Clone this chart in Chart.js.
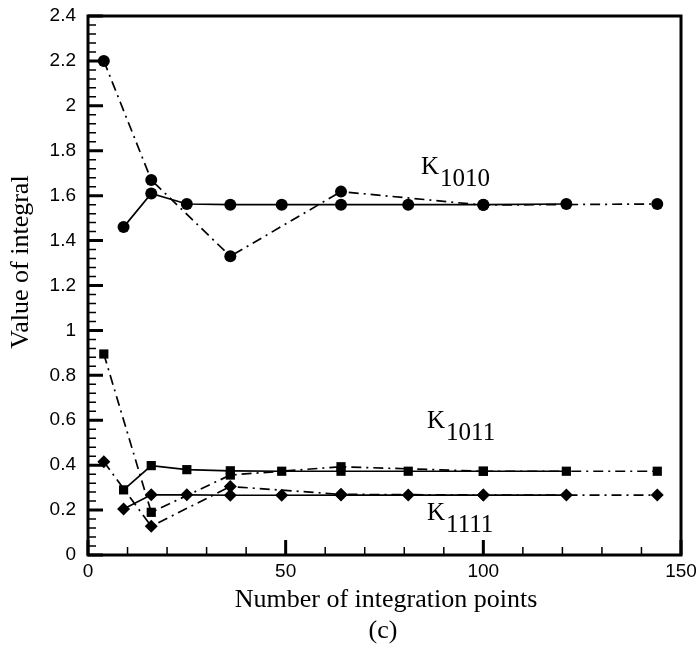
<!DOCTYPE html>
<html lang="en">
<head>
  <meta charset="UTF-8">
  <title>Value of integral</title>
  <script src="https://cdn.jsdelivr.net/npm/chart.js"></script>
  <style>
    body {
      margin: 0;
      padding: 0;
      background: white;
    }

    .wrap {
      width: 696px;
      height: 653px;
      position: relative;
    }
  </style>
</head>
<body>

  <div class="wrap">
    <canvas id="chart"></canvas>
  </div>

  <script>
    // integration point counts
    const evenPoints = [4, 16, 36, 64, 100, 144];
    const allPoints = [9, 16, 25, 36, 49, 64, 81, 100, 121];

    // K1010 (circles)
    const k1010Solid = [1.46, 1.61, 1.563, 1.56, 1.56, 1.56, 1.56, 1.56, 1.563];
    const k1010Dash = [2.2, 1.67, 1.33, 1.618, 1.558, 1.563];

    // K1011 (squares)
    const k1011Solid = [0.29, 0.398, 0.38, 0.375, 0.373, 0.373, 0.373, 0.373, 0.373];
    const k1011Dash = [0.895, 0.19, 0.356, 0.393, 0.373, 0.373];

    // K1111 (diamonds)
    const k1111Solid = [0.205, 0.268, 0.268, 0.266, 0.266, 0.267, 0.267, 0.267, 0.267];
    const k1111Dash = [0.415, 0.128, 0.305, 0.27, 0.267, 0.267];

    const xTicks = [0, 50, 100, 150];
    const labels = [
      { main: 'K', sub: '1010', x: 421, y: 174 },
      { main: 'K', sub: '1011', x: 427, y: 428 },
      { main: 'K', sub: '1111', x: 427, y: 520 }
    ];

    const serif = '"Liberation Serif", "Times New Roman", serif';
    const sans = '"Liberation Sans", Arial, sans-serif';
    const dashDot = [10, 5, 2, 5];

    function pts(xs, ys) {
      return xs.map((x, i) => ({ x: x, y: ys[i] }));
    }

    function series(xs, ys, style, dashed) {
      return {
        data: pts(xs, ys),
        showLine: true,
        borderColor: '#000',
        backgroundColor: '#000',
        borderWidth: 1.7,
        borderDash: dashed ? dashDot : [],
        pointStyle: style,
        pointRadius: style === 'circle' ? 6 : 6.5,
        pointBorderWidth: 0
      };
    }

    // frame, inward ticks and the text labels
    const decorations = {
      id: 'decorations',
      afterDraw(chart) {
        const ctx = chart.ctx;
        const a = chart.chartArea;
        const xs = chart.scales.x;
        const ys = chart.scales.y;
        ctx.save();
        ctx.strokeStyle = '#000';

        // minor ticks
        ctx.lineWidth = 1.5;
        ctx.beginPath();
        for (let v = 0; v <= 150; v += 10) {
          const px = xs.getPixelForValue(v);
          ctx.moveTo(px, a.bottom);
          ctx.lineTo(px, a.bottom - 8);
        }
        for (let i = 0; i <= 60; i++) {
          const py = ys.getPixelForValue(i * 0.04);
          ctx.moveTo(a.left, py);
          ctx.lineTo(a.left + 8, py);
        }
        ctx.stroke();

        // major ticks
        ctx.lineWidth = 3;
        ctx.beginPath();
        xTicks.forEach(v => {
          const px = xs.getPixelForValue(v);
          ctx.moveTo(px, a.bottom);
          ctx.lineTo(px, a.bottom - 15);
        });
        for (let i = 0; i <= 12; i++) {
          const py = ys.getPixelForValue(i * 0.2);
          ctx.moveTo(a.left, py);
          ctx.lineTo(a.left + 15, py);
        }
        ctx.stroke();

        // frame
        ctx.lineWidth = 3;
        ctx.strokeRect(a.left, a.top, a.right - a.left, a.bottom - a.top);

        // axis titles
        ctx.fillStyle = '#000';
        ctx.font = '26px ' + serif;
        ctx.textAlign = 'center';
        ctx.textBaseline = 'alphabetic';
        ctx.fillText('Number of integration points', 386, 607);
        ctx.fillText('(c)', 383, 638);

        ctx.save();
        ctx.translate(28, 262);
        ctx.rotate(-Math.PI / 2);
        ctx.fillText('Value of integral', 0, 0);
        ctx.restore();

        // curve labels
        ctx.textAlign = 'left';
        labels.forEach(l => {
          ctx.font = '25px ' + serif;
          ctx.fillText(l.main, l.x, l.y);
          const w = ctx.measureText(l.main).width;
          ctx.fillText(l.sub, l.x + w + 1, l.y + 12);
        });

        ctx.restore();
      }
    };

    new Chart(document.getElementById('chart'), {
      type: 'scatter',
      data: {
        datasets: [
          series(evenPoints, k1010Dash, 'circle', true),
          series(allPoints, k1010Solid, 'circle', false),
          series(evenPoints, k1011Dash, 'rect', true),
          series(allPoints, k1011Solid, 'rect', false),
          series(evenPoints, k1111Dash, 'rectRot', true),
          series(allPoints, k1111Solid, 'rectRot', false)
        ]
      },
      options: {
        responsive: true,
        maintainAspectRatio: false,
        animation: false,
        layout: {
          padding: { top: 16, right: 15, left: 0, bottom: 0 }
        },
        plugins: {
          legend: { display: false },
          tooltip: { enabled: false }
        },
        scales: {
          x: {
            type: 'linear',
            min: 0,
            max: 150,
            grid: { display: false, drawTicks: false },
            border: { display: false },
            ticks: {
              stepSize: 50,
              color: '#000',
              padding: 5,
              font: { family: sans, size: 19 }
            },
            afterFit(scale) {
              scale.height = 98;
              scale.paddingLeft = 0;
              scale.paddingRight = 0;
            }
          },
          y: {
            min: 0,
            max: 2.4,
            grid: { display: false, drawTicks: false },
            border: { display: false },
            ticks: {
              stepSize: 0.2,
              color: '#000',
              padding: 12,
              font: { family: sans, size: 19 },
              callback: v => String(+v.toFixed(1))
            },
            afterFit(scale) {
              scale.width = 88;
              scale.paddingTop = 0;
              scale.paddingBottom = 0;
            }
          }
        }
      },
      plugins: [decorations]
    });
  </script>
</body>
</html>
